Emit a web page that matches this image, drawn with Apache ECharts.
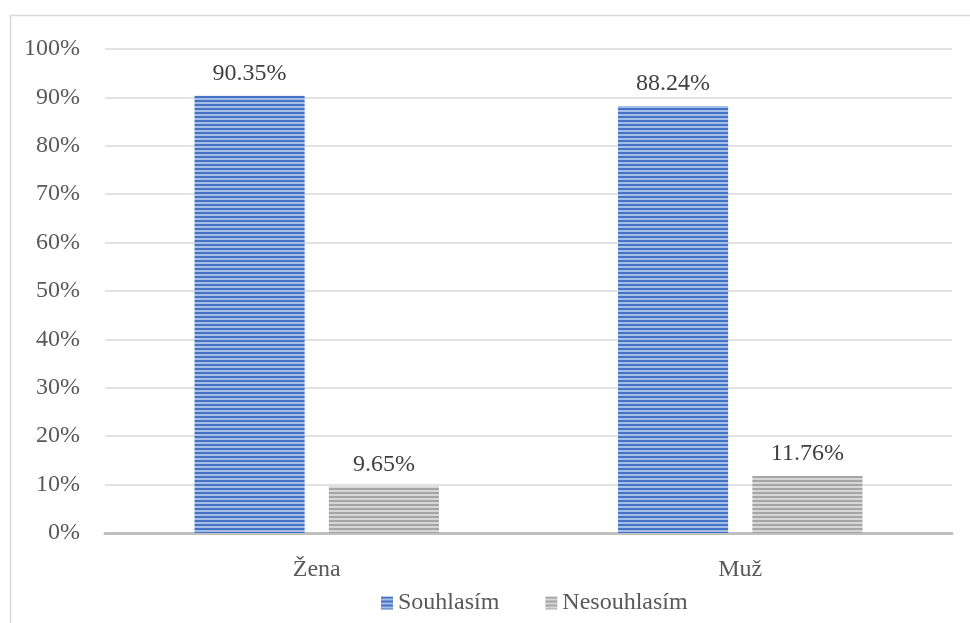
<!DOCTYPE html>
<html>
<head>
<meta charset="utf-8">
<script src="https://cdn.jsdelivr.net/npm/echarts@6/dist/echarts.min.js"></script>
<style>
  html, body { margin: 0; padding: 0; background: #fff; }
  #chart { width: 970px; height: 623px; }
</style>
</head>
<body>
<div id="chart"></div>
<script>
// data
const categories = ['Žena', 'Muž'];
const souhlasim = [90.35, 88.24];
const nesouhlasim = [9.65, 11.76];
const seriesNames = ['Souhlasím', 'Nesouhlasím'];

const font = 'Liberation Serif';

// horizontal stripe fill, like the office chart pattern
function stripes(dark, light) {
  const c = document.createElement('canvas');
  c.width = 4;
  c.height = 4;
  const ctx = c.getContext('2d');
  ctx.fillStyle = light;
  ctx.fillRect(0, 0, 4, 4);
  ctx.fillStyle = dark;
  ctx.fillRect(0, 0, 4, 2);
  return { image: c, repeat: 'repeat' };
}

const blue = stripes('#4472c4', '#a6bde6');
const gray = stripes('#a5a5a5', '#d6d6d6');

const chart = echarts.init(document.getElementById('chart'));

const labelStyle = {
  show: true,
  position: 'top',
  distance: 10,
  color: '#404040',
  fontFamily: font,
  fontSize: 24,
  formatter: p => p.value.toFixed(2) + '%'
};

chart.setOption({
  animation: false,
  graphic: [{
    type: 'rect',
    left: 8,
    top: 13,
    shape: { width: 1000, height: 700 },
    style: { fill: 'none', stroke: '#d9d9d9', lineWidth: 1.5 },
    silent: true
  }],
  grid: { left: 105, right: 18, top: 49, bottom: 90, containLabel: false },
  legend: {
    data: seriesNames,
    top: 586,
    left: 376,
    itemWidth: 12,
    itemHeight: 13,
    itemGap: 46,
    icon: 'rect',
    textStyle: { color: '#595959', fontFamily: font, fontSize: 24 }
  },
  xAxis: {
    type: 'category',
    data: categories,
    axisLine: { lineStyle: { color: '#bfbfbf', width: 3 } },
    axisTick: { show: false },
    axisLabel: { color: '#595959', fontFamily: font, fontSize: 24, margin: 25 }
  },
  yAxis: {
    type: 'value',
    min: 0,
    max: 100,
    interval: 10,
    axisLine: { show: false },
    axisTick: { show: false },
    splitLine: { lineStyle: { color: '#d9d9d9', width: 1.5 } },
    axisLabel: {
      color: '#595959', fontFamily: font, fontSize: 24, margin: 25,
      formatter: '{value}%'
    }
  },
  series: [
    {
      name: seriesNames[0],
      type: 'bar',
      data: souhlasim,
      barWidth: '26%',
      barGap: '22%',
      itemStyle: { color: blue },
      label: labelStyle
    },
    {
      name: seriesNames[1],
      type: 'bar',
      data: nesouhlasim,
      barWidth: '26%',
      itemStyle: { color: gray },
      label: labelStyle
    }
  ]
});
</script>
</body>
</html>
